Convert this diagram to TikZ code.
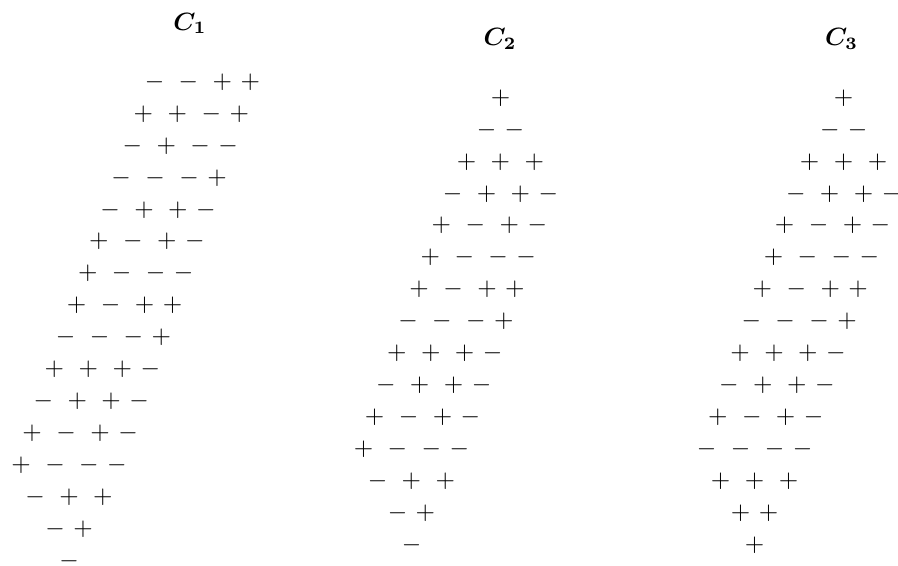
\documentclass[tikz,border=0pt]{standalone}
\usepackage{amsmath}
\usepackage{amssymb}
\usepackage{tikz}
\newcommand{\sgnbox}[1]{\makebox[7.78pt]{$#1$}}
\newcommand{\signsi}[1]{\sgnbox{#1}}
\newcommand{\signsii}[2]{\sgnbox{#1}\hspace{3.4pt}\sgnbox{#2}}
\newcommand{\signsiii}[3]{\sgnbox{#1}\hspace{5.8pt}\sgnbox{#2}\hspace{5.8pt}\sgnbox{#3}}
\newcommand{\signsiv}[4]{\sgnbox{#1}\hspace{5.8pt}\sgnbox{#2}\hspace{5.8pt}\sgnbox{#3}\hspace{3.4pt}\sgnbox{#4}}
\tikzset{signrow/.style={anchor=west, inner sep=0pt},
  coltitle/.style={anchor=base, inner sep=0pt}}

\begin{document}
\begin{tikzpicture}
        \useasboundingbox (0, 0) rectangle (12.624, -7.943);

        \node[coltitle] (t1) at (2.671, -0.422) {$\boldsymbol{C_1}$};
        \node[coltitle] (t2) at (7.029, -0.642) {$\boldsymbol{C_2}$};
        \node[coltitle] (t3) at (11.830, -0.642) {$\boldsymbol{C_3}$};

        % first column
        \node[signrow] (c1r1) at (2.028, -1.153) {\signsiv{-}{-}{+}{+}};
        \node[signrow] (c1r2) at (1.872, -1.602) {\signsiv{+}{+}{-}{+}};
        \node[signrow] (c1r3) at (1.716, -2.051) {\signsiv{-}{+}{-}{-}};
        \node[signrow] (c1r4) at (1.559, -2.500) {\signsiv{-}{-}{-}{+}};
        \node[signrow] (c1r5) at (1.403, -2.949) {\signsiv{-}{+}{+}{-}};
        \node[signrow] (c1r6) at (1.247, -3.398) {\signsiv{+}{-}{+}{-}};
        \node[signrow] (c1r7) at (1.090, -3.846) {\signsiv{+}{-}{-}{-}};
        \node[signrow] (c1r8) at (0.934, -4.295) {\signsiv{+}{-}{+}{+}};
        \node[signrow] (c1r9) at (0.778, -4.744) {\signsiv{-}{-}{-}{+}};
        \node[signrow] (c1r10) at (0.621, -5.193) {\signsiv{+}{+}{+}{-}};
        \node[signrow] (c1r11) at (0.465, -5.642) {\signsiv{-}{+}{+}{-}};
        \node[signrow] (c1r12) at (0.309, -6.091) {\signsiv{+}{-}{+}{-}};
        \node[signrow] (c1r13) at (0.152, -6.540) {\signsiv{+}{-}{-}{-}};
        \node[signrow] (c1r14) at (0.349, -6.989) {\signsiii{-}{+}{+}};
        \node[signrow] (c1r15) at (0.630, -7.438) {\signsii{-}{+}};
        \node[signrow] (c1r16) at (0.827, -7.887) {\signsi{-}};

        % second column
        \node[signrow] (c2r1) at (6.892, -1.377) {\signsi{+}};
        \node[signrow] (c2r2) at (6.696, -1.826) {\signsii{-}{-}};
        \node[signrow] (c2r3) at (6.414, -2.275) {\signsiii{+}{+}{+}};
        \node[signrow] (c2r4) at (6.218, -2.724) {\signsiv{-}{+}{+}{-}};
        \node[signrow] (c2r5) at (6.061, -3.173) {\signsiv{+}{-}{+}{-}};
        \node[signrow] (c2r6) at (5.905, -3.622) {\signsiv{+}{-}{-}{-}};
        \node[signrow] (c2r7) at (5.748, -4.071) {\signsiv{+}{-}{+}{+}};
        \node[signrow] (c2r8) at (5.592, -4.520) {\signsiv{-}{-}{-}{+}};
        \node[signrow] (c2r9) at (5.435, -4.969) {\signsiv{+}{+}{+}{-}};
        \node[signrow] (c2r10) at (5.279, -5.418) {\signsiv{-}{+}{+}{-}};
        \node[signrow] (c2r11) at (5.122, -5.866) {\signsiv{+}{-}{+}{-}};
        \node[signrow] (c2r12) at (4.966, -6.315) {\signsiv{+}{-}{-}{-}};
        \node[signrow] (c2r13) at (5.163, -6.764) {\signsiii{-}{+}{+}};
        \node[signrow] (c2r14) at (5.444, -7.213) {\signsii{-}{+}};
        \node[signrow] (c2r15) at (5.641, -7.662) {\signsi{-}};

        % third column
        \node[signrow] (c3r1) at (11.717, -1.377) {\signsi{+}};
        \node[signrow] (c3r2) at (11.521, -1.826) {\signsii{-}{-}};
        \node[signrow] (c3r3) at (11.239, -2.275) {\signsiii{+}{+}{+}};
        \node[signrow] (c3r4) at (11.043, -2.724) {\signsiv{-}{+}{+}{-}};
        \node[signrow] (c3r5) at (10.886, -3.173) {\signsiv{+}{-}{+}{-}};
        \node[signrow] (c3r6) at (10.730, -3.622) {\signsiv{+}{-}{-}{-}};
        \node[signrow] (c3r7) at (10.573, -4.071) {\signsiv{+}{-}{+}{+}};
        \node[signrow] (c3r8) at (10.417, -4.520) {\signsiv{-}{-}{-}{+}};
        \node[signrow] (c3r9) at (10.260, -4.969) {\signsiv{+}{+}{+}{-}};
        \node[signrow] (c3r10) at (10.104, -5.418) {\signsiv{-}{+}{+}{-}};
        \node[signrow] (c3r11) at (9.947, -5.866) {\signsiv{+}{-}{+}{-}};
        \node[signrow] (c3r12) at (9.791, -6.315) {\signsiv{-}{-}{-}{-}};
        \node[signrow] (c3r13) at (9.988, -6.764) {\signsiii{+}{+}{+}};
        \node[signrow] (c3r14) at (10.269, -7.213) {\signsii{+}{+}};
        \node[signrow] (c3r15) at (10.466, -7.662) {\signsi{+}};
      \end{tikzpicture}
\end{document}
